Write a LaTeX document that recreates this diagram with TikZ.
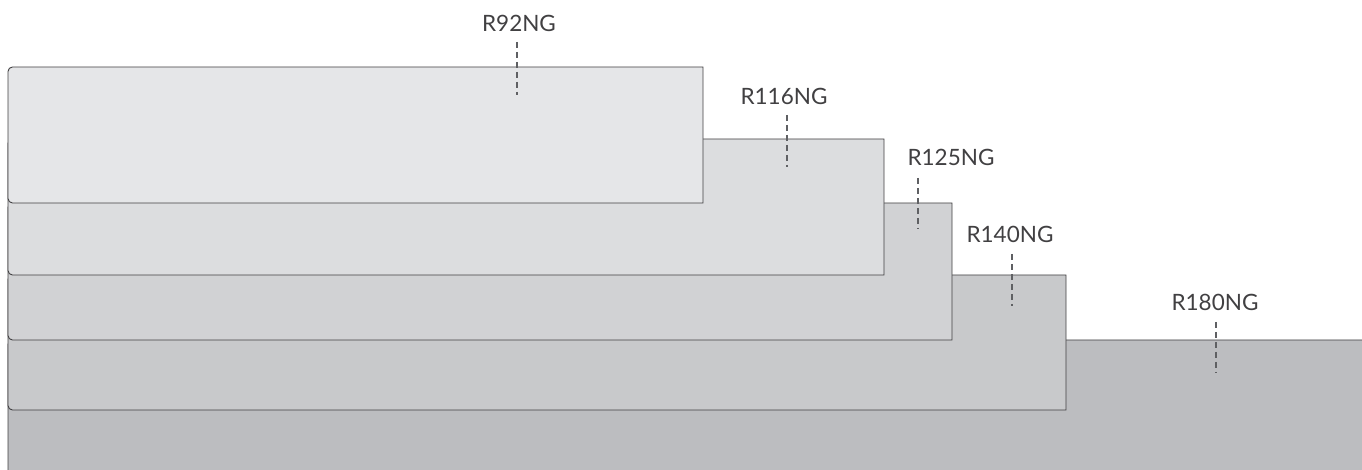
\documentclass[tikz,border=0pt]{standalone}
\usepackage{fontspec}
\setmainfont{Lato}
\definecolor{fillA}{HTML}{E5E6E8}
\definecolor{fillB}{HTML}{DCDDDF}
\definecolor{fillC}{HTML}{D1D2D4}
\definecolor{fillD}{HTML}{C8C9CB}
\definecolor{fillE}{HTML}{BCBDC0}
\definecolor{edgecol}{HTML}{414042}
\definecolor{dashcol}{HTML}{5F6063}
\newcommand\slabbox[5]{% fill, left, right, top, bottom
  \draw[slabline, fill=#1] (#3,#4) -- ({#2+4.5},#4) arc[start angle=90,end angle=180,radius=4.5]
    -- (#2,{#5+4.5}) arc[start angle=180,end angle=270,radius=4.5] -- (#3,#5) -- cycle;}
\tikzset{
  slabline/.style={draw=edgecol, line width=0.9pt},
  gradelabel/.style={font=\fontsize{22.5}{26}\selectfont, text=edgecol, inner sep=0pt},
  gradetick/.style={draw=dashcol, line width=2.2pt, dash pattern=on 6pt off 4pt},
}
\begin{document}
\begin{tikzpicture}[x=1pt,y=1pt]
\useasboundingbox (0,0) rectangle (1362,470);
\begin{scope}
\clip (0,0) rectangle (1362,470);
\slabbox{fillE}{8}{1366}{130}{-10}
\slabbox{fillD}{8}{1066}{195}{60}
\slabbox{fillC}{8}{952}{267}{130}
\slabbox{fillB}{8}{884}{331}{195}
\slabbox{fillA}{8}{703}{403}{267}
\end{scope}
% labels
\node[gradelabel] (l92) at (519,447) {R92NG};
\node[gradelabel] (l116) at (784,374) {R116NG};
\node[gradelabel] (l125) at (951,313) {R125NG};
\node[gradelabel] (l140) at (1010,236) {R140NG};
\node[gradelabel] (l180) at (1215,168) {R180NG};
% tick coordinates
\coordinate (t92a) at (517,428); \coordinate (t92b) at (517,375);
\coordinate (t116a) at (787,355); \coordinate (t116b) at (787,303);
\coordinate (t125a) at (918,292); \coordinate (t125b) at (918,241);
\coordinate (t140a) at (1012,216); \coordinate (t140b) at (1012,164);
\coordinate (t180a) at (1216,148); \coordinate (t180b) at (1216,97);
\draw[gradetick] (t92a) -- (t92b);
\draw[gradetick] (t116a) -- (t116b);
\draw[gradetick] (t125a) -- (t125b);
\draw[gradetick] (t140a) -- (t140b);
\draw[gradetick] (t180a) -- (t180b);
\end{tikzpicture}
\end{document}
